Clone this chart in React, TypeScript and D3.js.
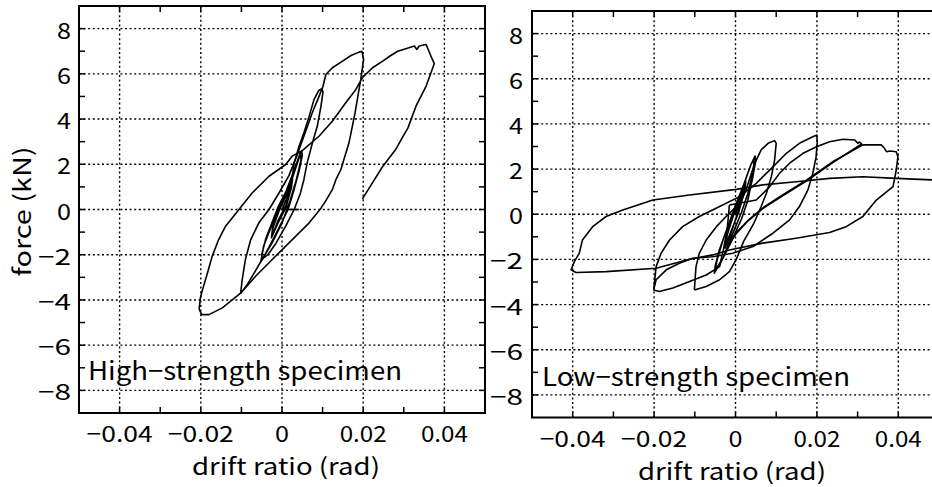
import React from 'react';
import * as d3 from 'd3';

type Pt = [number, number];

// axis ticks
const xMajor = [-0.04, -0.02, 0, 0.02, 0.04];
const xMinor = [-0.04, -0.03, -0.02, -0.01, 0, 0.01, 0.02, 0.03, 0.04];
const yMajor = [-8, -6, -4, -2, 0, 2, 4, 6, 8];
const yMinor = [-8, -7, -6, -5, -4, -3, -2, -1, 0, 1, 2, 3, 4, 5, 6, 7, 8];
const xTitle = 'drift ratio (rad)';
const yTitle = 'force (kN)';

// high-strength specimen, traced strokes [drift, force]
const highStart: Pt[] = [[0.0042, 0], [0, 0]];
const highSmall: Pt[] = [
  [0, 0], [0.0012, 0.5], [0.0025, 1.3], [0.0022, 0.9], [0.001, 0.1], [-0.001, -0.6], [-0.0025, -1.2], [-0.0022, -0.8], [-0.0008, -0.1],
  [0.001, 0.6], [0.0026, 1.35], [0.0023, 0.95], [0.001, 0.2], [-0.001, -0.5], [-0.0026, -1.25], [-0.0023, -0.8], [-0.0005, 0.1],
  [0.002, 1.1], [0.0035, 1.9], [0.0048, 2.6], [0.005, 2.4], [0.0042, 1.7], [0.003, 0.9], [0.0015, 0.0], [-0.001, -0.9], [-0.003, -1.6],
  [-0.0048, -2.2], [-0.005, -2.0], [-0.004, -1.3], [-0.0025, -0.6], [-0.001, 0.1],
  [0.001, 0.8], [0.0025, 1.5], [0.0045, 2.5], [0.0047, 2.2], [0.0035, 1.3], [0.002, 0.4], [0, -0.6], [-0.0025, -1.5], [-0.0052, -2.3],
  [-0.0045, -1.6], [-0.0025, -0.7], [0, 0.4], [0.0018, 1.0],
];
const highCycle10: Pt[] = [
  [0.0018, 1.0], [0.0025, 1.4], [0.003, 2.06], [0.0042, 2.8], [0.0054, 3.39], [0.0067, 4.13], [0.0079, 4.87], [0.009, 5.25], [0.0098, 5.34],
  [0.0101, 5.2], [0.0096, 4.57], [0.0087, 3.69], [0.0075, 2.95], [0.0062, 2.06], [0.0054, 1.33], [0.0045, 0.7], [0.003, 0.0], [0.001, -0.7],
  [-0.0015, -1.5], [-0.0035, -2.0], [-0.0049, -2.2], [-0.0065, -2.7], [-0.0085, -3.3], [-0.0102, -3.72],
];
const highCycle20: Pt[] = [
  [-0.0102, -3.72], [-0.0098, -3.1], [-0.009, -2.2], [-0.0077, -1.33], [-0.0057, -0.59], [-0.0032, 0], [-0.0007, 0.74], [0.0017, 1.5],
  [0.0035, 2.3], [0.0055, 3.3], [0.0075, 4.3], [0.009, 4.95], [0.0101, 5.45], [0.0108, 5.97], [0.0124, 6.27], [0.0149, 6.56], [0.017, 6.81],
  [0.019, 6.96], [0.0197, 7.0], [0.0201, 6.64], [0.0194, 5.75], [0.018, 4.28], [0.0165, 2.95], [0.0145, 1.77], [0.0133, 1.33], [0.0124, 0.88],
  [0.0105, 0.3], [0.0099, 0.15], [0.0096, 0.05], [0.0067, -0.59], [0.0034, -1.18], [-0.0016, -2.07], [-0.0065, -2.95], [-0.0102, -3.7],
  [-0.0147, -4.35], [-0.018, -4.65], [-0.0198, -4.65], [-0.0204, -4.4], [-0.0201, -3.9], [-0.0195, -3.5], [-0.0185, -2.9], [-0.0172, -2.07],
  [-0.0156, -1.33], [-0.0139, -0.74], [-0.0106, 0], [-0.0073, 0.74], [-0.0032, 1.47], [0.0009, 1.99], [0.0025, 2.36], [0.005, 2.6],
  [0.0091, 3.24], [0.0124, 3.9], [0.0157, 4.72], [0.0182, 5.31], [0.0198, 5.83],
];
const highCycle40: Pt[] = [
  [0.0198, 5.83], [0.0223, 6.27], [0.0248, 6.56], [0.0268, 6.81], [0.0285, 7.0], [0.0305, 7.11], [0.0326, 7.23], [0.0332, 7.08],
  [0.0338, 7.23], [0.0355, 7.3], [0.0367, 6.78], [0.0375, 6.45], [0.0355, 5.46], [0.033, 4.57], [0.031, 3.6], [0.0297, 3.2],
  [0.028, 2.65], [0.0248, 1.9], [0.022, 1.1], [0.0198, 0.47],
];

// low-strength specimen
const lowSmall: Pt[] = [
  [0, 0], [0.0012, 0.7], [0.0025, 1.4], [0.0022, 1.0], [0.0008, 0.1], [-0.0012, -0.8], [-0.0025, -1.4], [-0.0022, -1.0], [-0.0006, -0.1],
  [0.001, 0.7], [0.0025, 1.5], [0.0022, 1.1], [0.0006, 0.1], [-0.0012, -0.9], [-0.0026, -1.5], [-0.002, -0.9], [0, 0.3],
  [0.002, 1.3], [0.0038, 2.2], [0.0048, 2.58], [0.005, 2.4], [0.0042, 1.6], [0.003, 0.6], [0.0015, -0.2], [-0.001, -1.2], [-0.0035, -2.1],
  [-0.0052, -2.61], [-0.005, -2.3], [-0.004, -1.6], [-0.002, -0.6], [0, 0.4], [0.002, 1.3], [0.0038, 2.2], [0.0046, 2.5], [0.0044, 2.0],
  [0.003, 0.9], [0.0015, 0.1], [-0.001, -1.0], [-0.003, -1.9], [-0.005, -2.5], [-0.0045, -2.0], [-0.003, -1.1], [-0.001, -0.2],
];
const lowCycle10: Pt[] = [
  [-0.0101, -3.35], [-0.0099, -2.8], [-0.0097, -2.32], [-0.0089, -1.73], [-0.0072, -1.14], [-0.0047, -0.55], [-0.0023, -0.1], [0.0002, 0.34],
  [0.0014, 0.6], [0.0026, 1.08], [0.0039, 1.81], [0.0051, 2.4], [0.0063, 2.85], [0.008, 3.14], [0.0096, 3.26], [0.01, 3.14], [0.0096, 2.4],
  [0.0088, 1.66], [0.0076, 0.93], [0.0063, 0.34], [0.0045, -0.4], [0.002, -1.2], [0.0002, -2.0], [-0.0015, -2.54], [-0.0039, -2.9],
  [-0.0072, -3.2], [-0.0101, -3.35],
];
const lowCycle20: Pt[] = [
  [-0.0201, -3.35], [-0.0195, -2.32], [-0.0183, -1.73], [-0.0162, -1.14], [-0.013, -0.55], [-0.0089, -0.1], [-0.0039, 0.34], [0.001, 0.78],
  [0.0051, 1.37], [0.0092, 2.1], [0.0125, 2.7], [0.0157, 3.14], [0.019, 3.43], [0.02, 3.51], [0.0201, 3.2], [0.0198, 2.55], [0.019, 1.81],
  [0.0178, 1.08], [0.0157, 0.34], [0.0133, -0.25], [0.0092, -0.84], [0.0043, -1.43], [-0.0007, -1.73], [-0.0056, -1.88], [-0.0105, -1.95],
  [-0.0138, -2.17], [-0.017, -2.46], [-0.0195, -2.9], [-0.0201, -3.35], [-0.0187, -3.42], [-0.0154, -3.27], [-0.0113, -2.98],
  [-0.0072, -2.69], [-0.0039, -2.32], [-0.003, -1.6], [-0.002, -0.6], [-0.0015, 0.41],
];
const lowCycle30: Pt[] = [
  [-0.0015, 0.41], [0.0051, 0.63], [0.0084, 1.22], [0.0108, 1.81], [0.0133, 2.26], [0.0166, 2.7], [0.0199, 2.99], [0.0231, 3.21],
  [0.0264, 3.32], [0.0293, 3.29], [0.0301, 3.14], [0.0305, 3.2], [0.031, 3.11], [0.024, 2.3], [0.0174, 1.47], [0.011, 0.75],
  [0.0067, 0.25], [0.003, -0.3], [0, -0.9], [-0.002, -1.4],
];
const lowCycle40: Pt[] = [
  [-0.002, -1.4], [0.0005, -0.75], [0.0035, -0.2], [0.007, 0.32], [0.0113, 0.82], [0.0176, 1.53], [0.0242, 2.36], [0.0313, 3.07],
  [0.0358, 3.07], [0.0366, 2.92], [0.0371, 2.77], [0.0379, 2.8], [0.0395, 2.77], [0.0399, 2.55], [0.0395, 1.96], [0.0387, 1.22],
  [0.0346, 0.63], [0.0313, -0.1], [0.0272, -0.55], [0.0231, -0.81], [0.0149, -1.06], [0.0067, -1.28], [-0.0015, -1.58], [-0.0056, -1.8],
  [-0.0113, -1.99], [-0.0195, -2.39], [-0.0318, -2.54], [-0.0392, -2.58], [-0.0404, -2.46], [-0.0396, -2.1], [-0.0384, -1.73],
  [-0.0376, -1.14], [-0.0351, -0.55], [-0.0318, -0.1], [-0.0277, 0.19], [-0.0203, 0.63], [-0.0113, 0.85], [0.0002, 1.1], [0.0067, 1.3],
  [0.0149, 1.44], [0.0231, 1.59], [0.0313, 1.66], [0.0395, 1.59], [0.0482, 1.52], [0.052, 1.5],
];

const highStrokes = [highStart, highSmall, highCycle10, highCycle20, highCycle40];
const lowStrokes = [lowSmall, lowCycle10, lowCycle20, lowCycle30, lowCycle40];

const FONT = '"Noto Sans CJK JP", "Noto Sans", sans-serif';

function fmt(v: number) {
  if (v === 0) return '0';
  return (v < 0 ? '\u2212' : '') + String(Math.abs(v));
}

// the source font is a wide gothic; stretch labels to its widths
function labelWidth(s: string) {
  let w = 0;
  for (const c of s) w += c === '\u2212' ? 19 : c === '.' ? 5 : 14;
  return w;
}

function Panel(props: {
  id: string; xr: [number, number]; yr: [number, number]; strokes: Pt[][];
  title: string; titleWidth: number; titlePos: [number, number]; xTitleX: number; xTitleY: number; yLabelX: number; showYTitle: boolean;
}) {
  const { id, xr, yr, strokes, title, titleWidth, titlePos, xTitleX, xTitleY, yLabelX, showYTitle } = props;
  const x = d3.scaleLinear().domain([-0.05, 0.05]).range(xr);
  const y = d3.scaleLinear().domain([-9, 9]).range(yr);
  const line = d3.line<Pt>().x(d => x(d[0])).y(d => y(d[1]));
  const top = yr[1], bottom = yr[0], left = xr[0], right = xr[1];
  const tl = 6;

  return (
    <g>
      <defs>
        <clipPath id={id}>
          <rect x={left} y={top} width={right - left} height={bottom - top} />
        </clipPath>
      </defs>
      {/* grid */}
      <g stroke="#000" strokeWidth={1.4} strokeDasharray="2,2.6">
        {xMajor.map(v => <line key={'gx' + v} x1={x(v)} x2={x(v)} y1={top} y2={bottom} />)}
        {yMajor.map(v => <line key={'gy' + v} x1={left} x2={right} y1={y(v)} y2={y(v)} />)}
      </g>
      {/* ticks */}
      <g stroke="#000" strokeWidth={1.5}>
        {xMinor.map(v => (
          <g key={'tx' + v}>
            <line x1={x(v)} x2={x(v)} y1={bottom} y2={bottom - tl} />
            <line x1={x(v)} x2={x(v)} y1={top} y2={top + tl} />
          </g>
        ))}
        {yMinor.map(v => (
          <g key={'ty' + v}>
            <line x1={left} x2={left + tl} y1={y(v)} y2={y(v)} />
            <line x1={right} x2={right - tl} y1={y(v)} y2={y(v)} />
          </g>
        ))}
      </g>
      <rect x={left} y={top} width={right - left} height={bottom - top} fill="none" stroke="#000" strokeWidth={2} />
      <g clipPath={`url(#${id})`} fill="none" stroke="#000" strokeWidth={1.6} strokeLinejoin="round">
        {strokes.map((s, i) => <path key={i} d={line(s) || ''} />)}
      </g>
      <g fontFamily={FONT} fontSize={22} fill="#000">
        {xMajor.map(v => (
          <text key={'lx' + v} x={x(v)} y={bottom + 19} textAnchor="middle" dominantBaseline="central"
            textLength={labelWidth(fmt(v))} lengthAdjust="spacingAndGlyphs">{fmt(v)}</text>
        ))}
        {yMajor.map(v => (
          <text key={'ly' + v} x={yLabelX} y={y(v)} textAnchor="end" dominantBaseline="central"
            textLength={labelWidth(fmt(v))} lengthAdjust="spacingAndGlyphs">{fmt(v)}</text>
        ))}
      </g>
      <text x={xTitleX} y={xTitleY} textAnchor="middle" fontFamily={FONT} fontSize={23}
        textLength={188} lengthAdjust="spacingAndGlyphs">{xTitle}</text>
      {showYTitle && (
        <text transform={`translate(31,${y(0) + 2}) rotate(-90)`} textAnchor="middle" fontFamily={FONT} fontSize={24}
          textLength={130} lengthAdjust="spacingAndGlyphs">{yTitle}</text>
      )}
      <text x={titlePos[0]} y={titlePos[1]} fontFamily={FONT} fontSize={25}
        textLength={titleWidth} lengthAdjust="spacingAndGlyphs">{title}</text>
    </g>
  );
}

export default function App() {
  return (
    <svg width={932} height={487} style={{ position: 'absolute', left: 0, top: 0, background: '#fff' }}>
      <rect width={932} height={487} fill="#fff" />
      <Panel id="clipHigh" xr={[79, 485]} yr={[413, 6]} strokes={highStrokes} title={'High\u2212strength specimen'} titleWidth={314}
        titlePos={[88, 380]} xTitleX={286} xTitleY={475} yLabelX={71} showYTitle={true} />
      <Panel id="clipLow" xr={[532, 939]} yr={[417.5, 11]} strokes={lowStrokes} title={'Low\u2212strength specimen'} titleWidth={308}
        titlePos={[542, 386]} xTitleX={732} xTitleY={480} yLabelX={523} showYTitle={false} />
    </svg>
  );
}
